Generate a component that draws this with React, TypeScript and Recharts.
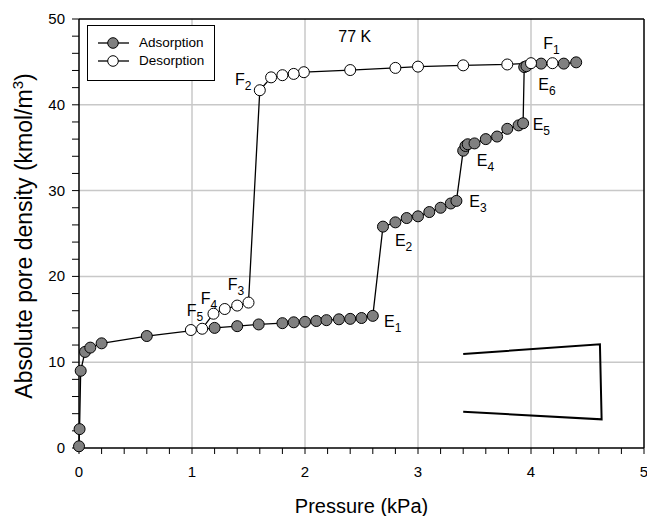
import React from "react";
import { LineChart, Line, XAxis, YAxis, ReferenceLine, ReferenceDot, Legend } from "recharts";

// adsorption branch, in the order it was measured
const adsPressure = [0, 0.005, 0.015, 0.053, 0.1, 0.2, 0.6, 1.2, 1.4, 1.59, 1.8, 1.9, 2.0, 2.1, 2.19, 2.3, 2.4, 2.5, 2.6,
  2.69, 2.8, 2.9, 3.0, 3.1, 3.2, 3.29, 3.34, 3.4, 3.42, 3.44, 3.5, 3.6, 3.7, 3.79, 3.89, 3.93, 3.94, 3.96, 4.09, 4.29, 4.4];
const adsDensity = [0.2, 2.2, 9.0, 11.2, 11.7, 12.2, 13.05, 14.0, 14.2, 14.4, 14.55, 14.65, 14.7, 14.8, 14.9, 15.0, 15.05, 15.15, 15.4,
  25.8, 26.3, 26.8, 27.0, 27.5, 28.0, 28.5, 28.8, 34.65, 35.2, 35.4, 35.5, 36.0, 36.3, 37.2, 37.6, 37.85, 44.4, 44.5, 44.8, 44.8, 44.95];

// desorption branch, starting from the highest pressure
const desPressure = [4.19, 4.0, 3.79, 3.4, 3.0, 2.8, 2.4, 1.99, 1.9, 1.8, 1.7, 1.6, 1.5, 1.4, 1.29, 1.19, 1.09, 0.99];
const desDensity = [44.85, 44.85, 44.7, 44.6, 44.45, 44.3, 44.05, 43.8, 43.6, 43.45, 43.2, 41.7, 16.95, 16.6, 16.2, 15.65, 13.9, 13.75];

// the open trapezoid sketch in the lower right
const sketchPressure = [3.4, 4.61, 4.625, 3.4];
const sketchDensity = [10.95, 12.08, 3.34, 4.23];

const xLabels = [0, 1, 2, 3, 4, 5];
const yLabels = [0, 10, 20, 30, 40, 50];
const gridX = [1, 2, 3, 4];
const gridY = [10, 20, 30, 40];
const xTicks = Array.from({ length: 26 }, (_, i) => Math.round(i * 2) / 10);
const yTicks = Array.from({ length: 26 }, (_, i) => i * 2);

// point labels: main letter, subscript, anchor (pressure, density)
const pointLabels = [
  { main: "E", sub: "1", p: 2.699, d: 14.14 },
  { main: "E", sub: "2", p: 2.796, d: 23.53 },
  { main: "E", sub: "3", p: 3.454, d: 28.1 },
  { main: "E", sub: "4", p: 3.52, d: 32.86 },
  { main: "E", sub: "5", p: 4.015, d: 37.04 },
  { main: "E", sub: "6", p: 4.065, d: 41.7 },
  { main: "F", sub: "1", p: 4.109, d: 46.45 },
  { main: "F", sub: "2", p: 1.381, d: 42.3 },
  { main: "F", sub: "3", p: 1.316, d: 18.43 },
  { main: "F", sub: "4", p: 1.077, d: 16.78 },
  { main: "F", sub: "5", p: 0.953, d: 15.38 },
];

const adsData = adsPressure.map((p, i) => ({ p, d: adsDensity[i] }));
const desData = desPressure.map((p, i) => ({ p, d: desDensity[i] }));
const sketchData = sketchPressure.map((p, i) => ({ p, d: sketchDensity[i] }));

const FONT = "'Liberation Sans', Arial, sans-serif";

const XTick = ({ x, y, payload }: any) => {
  if (!xLabels.includes(payload.value)) return null;
  return (
    <text x={x} y={y} dy={17} textAnchor="middle" fontSize={15} fontFamily={FONT} fill="#000">
      {payload.value}
    </text>
  );
};

const YTick = ({ x, y, payload }: any) => {
  if (!yLabels.includes(payload.value)) return null;
  return (
    <text x={x} y={y} dy={5} textAnchor="end" fontSize={15} fontFamily={FONT} fill="#000">
      {payload.value}
    </text>
  );
};

const YTitle = () => (
  <text x={32} y={236} transform="rotate(-90, 32, 236)" textAnchor="middle" fontSize={23} fontFamily={FONT} fill="#000">
    Absolute pore density (kmol/m<tspan dy={-9} fontSize={15}>3</tspan><tspan dy={9}>)</tspan>
  </text>
);

const subLabel = (main: string, sub: string) => (props: any) => {
  const { x, y } = props.viewBox;
  return (
    <text x={x} y={y} fontSize={16} fontFamily={FONT} fill="#000">
      {main}
      <tspan dy={5} fontSize={12}>{sub}</tspan>
    </text>
  );
};

const tempLabel = (props: any) => {
  const { x, y } = props.viewBox;
  return (
    <text x={x} y={y} textAnchor="middle" fontSize={16} fontFamily={FONT} fill="#000">
      77 K
    </text>
  );
};

const LegendBox = () => (
  <div style={{ width: 126, height: 54, border: "1.5px solid #000", background: "#fff", fontFamily: FONT, fontSize: 13.5 }}>
    {[
      { name: "Adsorption", fill: "#808080" },
      { name: "Desorption", fill: "#fff" },
    ].map((e, i) => (
      <div key={e.name} style={{ position: "absolute", left: 10, top: 10 + i * 18, display: "flex", alignItems: "center", height: 16 }}>
        <svg width={34} height={16}>
          <line x1={1} y1={8} x2={32} y2={8} stroke="#000" strokeWidth={1.3} />
          <circle cx={16} cy={8} r={5.3} fill={e.fill} stroke="#000" strokeWidth={1} />
        </svg>
        <span style={{ marginLeft: 8, lineHeight: "16px" }}>{e.name}</span>
      </div>
    ))}
  </div>
);

const App = () => {
  return (
    <div style={{ position: "absolute", left: 0, top: 0 }}>
      <LineChart width={647} height={516} margin={{ top: 19, right: 3, bottom: 0, left: 0 }}>
        {gridX.map((v) => (
          <ReferenceLine key={`gx${v}`} x={v} stroke="#c8c8c8" strokeWidth={1.5} />
        ))}
        {gridY.map((v) => (
          <ReferenceLine key={`gy${v}`} y={v} stroke="#c8c8c8" strokeWidth={1.5} />
        ))}
        <ReferenceLine y={50} stroke="#000" strokeWidth={1.5} />
        <ReferenceLine x={5} stroke="#000" strokeWidth={1.5} />
        <XAxis
          dataKey="p"
          type="number"
          domain={[0, 5]}
          ticks={xTicks}
          interval={0}
          height={68}
          tickSize={6}
          tickMargin={6}
          tick={<XTick />}
          axisLine={{ stroke: "#000", strokeWidth: 1.5 }}
          tickLine={{ stroke: "#000" }}
          label={{ value: "Pressure (kPa)", position: "insideBottom", offset: 3, fontSize: 20, fontFamily: FONT, fill: "#000" }}
        />
        <YAxis
          dataKey="d"
          type="number"
          domain={[0, 50]}
          ticks={yTicks}
          interval={0}
          width={79}
          tickSize={7}
          tickMargin={7}
          tick={<YTick />}
          axisLine={{ stroke: "#000", strokeWidth: 1.5 }}
          tickLine={{ stroke: "#000" }}
          label={<YTitle />}
        />
        <Legend
          layout="horizontal"
          verticalAlign="middle"
          align="center"
          content={<LegendBox />}
          wrapperStyle={{ position: "absolute", left: 87, top: 25, width: 129, height: 57 }}
        />
        <Line
          data={sketchData}
          dataKey="d"
          stroke="#000"
          strokeWidth={2}
          dot={false}
          legendType="none"
          isAnimationActive={false}
        />
        <Line
          data={adsData}
          dataKey="d"
          name="Adsorption"
          stroke="#000"
          strokeWidth={1.3}
          dot={{ r: 5.5, fill: "#808080", stroke: "#000", strokeWidth: 1 }}
          isAnimationActive={false}
        />
        <Line
          data={desData}
          dataKey="d"
          name="Desorption"
          stroke="#000"
          strokeWidth={1.3}
          dot={{ r: 5.5, fill: "#fff", stroke: "#000", strokeWidth: 1 }}
          isAnimationActive={false}
        />
        {pointLabels.map((l) => (
          <ReferenceDot key={l.main + l.sub} x={l.p} y={l.d} r={0} fill="none" stroke="none" label={{ content: subLabel(l.main, l.sub) }} />
        ))}
        <ReferenceDot x={2.44} y={47.3} r={0} fill="none" stroke="none" label={{ content: tempLabel }} />
      </LineChart>
    </div>
  );
};

export default App;
